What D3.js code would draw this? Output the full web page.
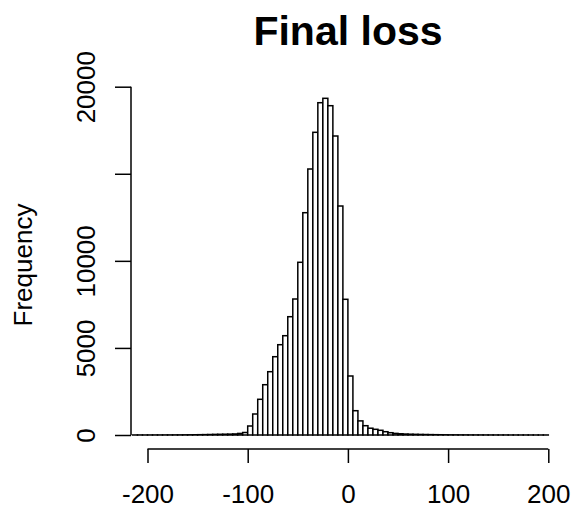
<!DOCTYPE html>
<html>
<head>
<meta charset="utf-8">
<script src="https://cdn.jsdelivr.net/npm/d3@7"></script>
<style>
  html, body { margin: 0; padding: 0; background: #fff; }
  svg { display: block; }
  text { font-family: "Liberation Sans", Arial, Helvetica, sans-serif; fill: #000; }
</style>
</head>
<body>
<script>
// Histogram bins: start of each 5-unit bin and counts
const binWidth = 5;
const binStarts = d3.range(-215, 200, 5);
const counts = [
  // -215 .. -110
  2, 3, 2, 3, 4, 4, 5, 6, 7, 8, 10, 12, 14, 18, 22, 28, 35, 40, 45, 50, 60, 90,
  // -105 .. -5
  144, 517, 1206, 2050, 2888, 3635, 4496, 5185, 5702, 6793, 7809, 9917,
  12765, 15274, 17381, 19081, 19333, 18909, 17169, 13149, 7792,
  // 0 .. 50
  3388, 1395, 810, 534, 390, 327, 270, 189, 132, 92, 70,
  // 55 .. 195
  55, 45, 38, 32, 27, 22, 18, 15, 12, 10, 9, 8, 7, 6, 5, 5, 4, 4, 3, 3, 3, 2, 2, 2, 2, 2, 1, 1, 1
];
const xTicks = [-200, -100, 0, 100, 200];
const xTickLabels = ["-200", "-100", "0", "100", "200"];
const yTicks = [0, 5000, 10000, 15000, 20000];
const yTickLabels = ["0", "5000", "10000", "", "20000"];
const title = "Final loss";
const yLabel = "Frequency";

const W = 572, H = 516;
const svg = d3.select("body").append("svg").attr("width", W).attr("height", H);

const x = d3.scaleLinear().domain([-200, 200]).range([147.5, 548.3]);
const y = d3.scaleLinear().domain([0, 20000]).range([435, 86.7]);

const bins = binStarts.map((s, i) => ({ x0: s, x1: s + binWidth, n: counts[i] }));

svg.append("g")
  .selectAll("rect")
  .data(bins)
  .join("rect")
  .attr("x", d => x(d.x0))
  .attr("width", d => x(d.x1) - x(d.x0))
  .attr("y", d => y(d.n))
  .attr("height", d => y(0) - y(d.n))
  .attr("fill", "#fff")
  .attr("stroke", "#000")
  .attr("stroke-width", 1.5);

// X axis
const xAxisY = 449;
const xa = svg.append("g").attr("transform", `translate(0,${xAxisY})`)
  .call(d3.axisBottom(x).tickValues(xTicks).tickSize(14).tickPadding(22)
    .tickFormat((d, i) => xTickLabels[i]));
xa.select(".domain").attr("d", `M${x(-200)},0H${x(200)}`).attr("stroke-width", 1.5);
xa.selectAll(".tick line").attr("stroke-width", 1.5);
xa.selectAll(".tick text").attr("font-size", 26).attr("font-family", "Liberation Sans, Arial, sans-serif");

// Y axis
const yAxisX = 131;
const ya = svg.append("g").attr("transform", `translate(${yAxisX},0)`)
  .call(d3.axisLeft(y).tickValues(yTicks).tickSize(16).tickFormat((d, i) => yTickLabels[i]));
ya.select(".domain").attr("d", `M0,${y(0)}V${y(20000)}`).attr("stroke-width", 1.5);
ya.selectAll(".tick line").attr("stroke-width", 1.5);
ya.selectAll(".tick text")
  .attr("font-size", 26)
  .attr("font-family", "Liberation Sans, Arial, sans-serif")
  .attr("x", null).attr("dy", null)
  .attr("text-anchor", "middle")
  .attr("transform", `translate(${95 - yAxisX},0) rotate(-90)`)
  .attr("y", 0);

// Title
svg.append("text")
  .attr("x", 348).attr("y", 45)
  .attr("text-anchor", "middle")
  .attr("font-size", 41).attr("font-weight", "bold")
  .text(title);

// Y label
svg.append("text")
  .attr("transform", "translate(32,265) rotate(-90)")
  .attr("text-anchor", "middle")
  .attr("font-size", 26)
  .text(yLabel);
</script>
</body>
</html>
